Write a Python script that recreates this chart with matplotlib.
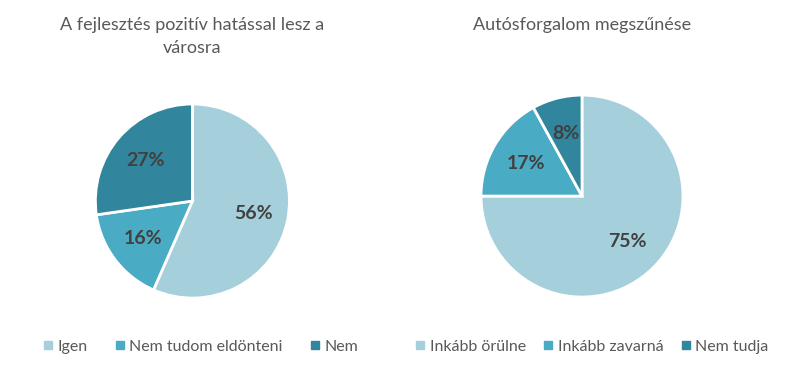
import matplotlib.pyplot as plt
from matplotlib.lines import Line2D

plt.rcParams["font.family"] = ["Lato", "DejaVu Sans"]

# adatok
left_labels = ["Igen", "Nem tudom eldönteni", "Nem"]
left_values = [56, 16, 27]
left_title = "A fejlesztés pozitív hatással lesz a\nvárosra"

right_labels = ["Inkább örülne", "Inkább zavarná", "Nem tudja"]
right_values = [75, 17, 8]
right_title = "Autósforgalom megszűnése"

colors = ["#a6cfdc", "#4aabc4", "#31859c"]
text_color = "#595959"

fig = plt.figure(figsize=(8, 3.8), dpi=100)


def draw_pie(ax, values, labels):
    wedges, _, autotexts = ax.pie(
        values,
        colors=colors,
        startangle=90,
        counterclock=False,
        autopct="%d%%",
        pctdistance=0.64,
        wedgeprops=dict(edgecolor="white", linewidth=2),
    )
    for t in autotexts:
        t.set_fontsize(14)
        t.set_fontweight("bold")
        t.set_color("#404040")
    ax.set_xlim(-1.01, 1.01)
    ax.set_ylim(-1.01, 1.01)
    ax.set_aspect("equal")
    return wedges


# bal oldali kördiagram
ax1 = fig.add_axes([0.2405 - 0.1225, 0.471 - 0.258, 0.245, 0.516])
draw_pie(ax1, left_values, left_labels)
fig.text(0.24, 0.955, left_title, ha="center", va="top", fontsize=13,
         color=text_color, linespacing=1.5)

# jobb oldali kördiagram
ax2 = fig.add_axes([0.7275 - 0.1275, 0.484 - 0.2684, 0.255, 0.5368])
draw_pie(ax2, right_values, right_labels)
fig.text(0.7275, 0.955, right_title, ha="center", va="top", fontsize=13,
         color=text_color)


def legend_handles(labels):
    return [Line2D([0], [0], marker="s", linestyle="", markersize=6,
                   markerfacecolor=c, markeredgecolor=c) for c in colors[:len(labels)]]


fig.legend(legend_handles(left_labels), left_labels, loc="center",
           bbox_to_anchor=(0.25, 0.087), ncol=3, frameon=False, fontsize=11.5,
           labelcolor=text_color, handletextpad=0.2, columnspacing=1.6,
           handlelength=0.8)
fig.legend(legend_handles(right_labels), right_labels, loc="center",
           bbox_to_anchor=(0.739, 0.087), ncol=3, frameon=False, fontsize=11.5,
           labelcolor=text_color, handletextpad=0.2, columnspacing=1.0,
           handlelength=0.8)

fig.savefig("out.png", dpi=100)
